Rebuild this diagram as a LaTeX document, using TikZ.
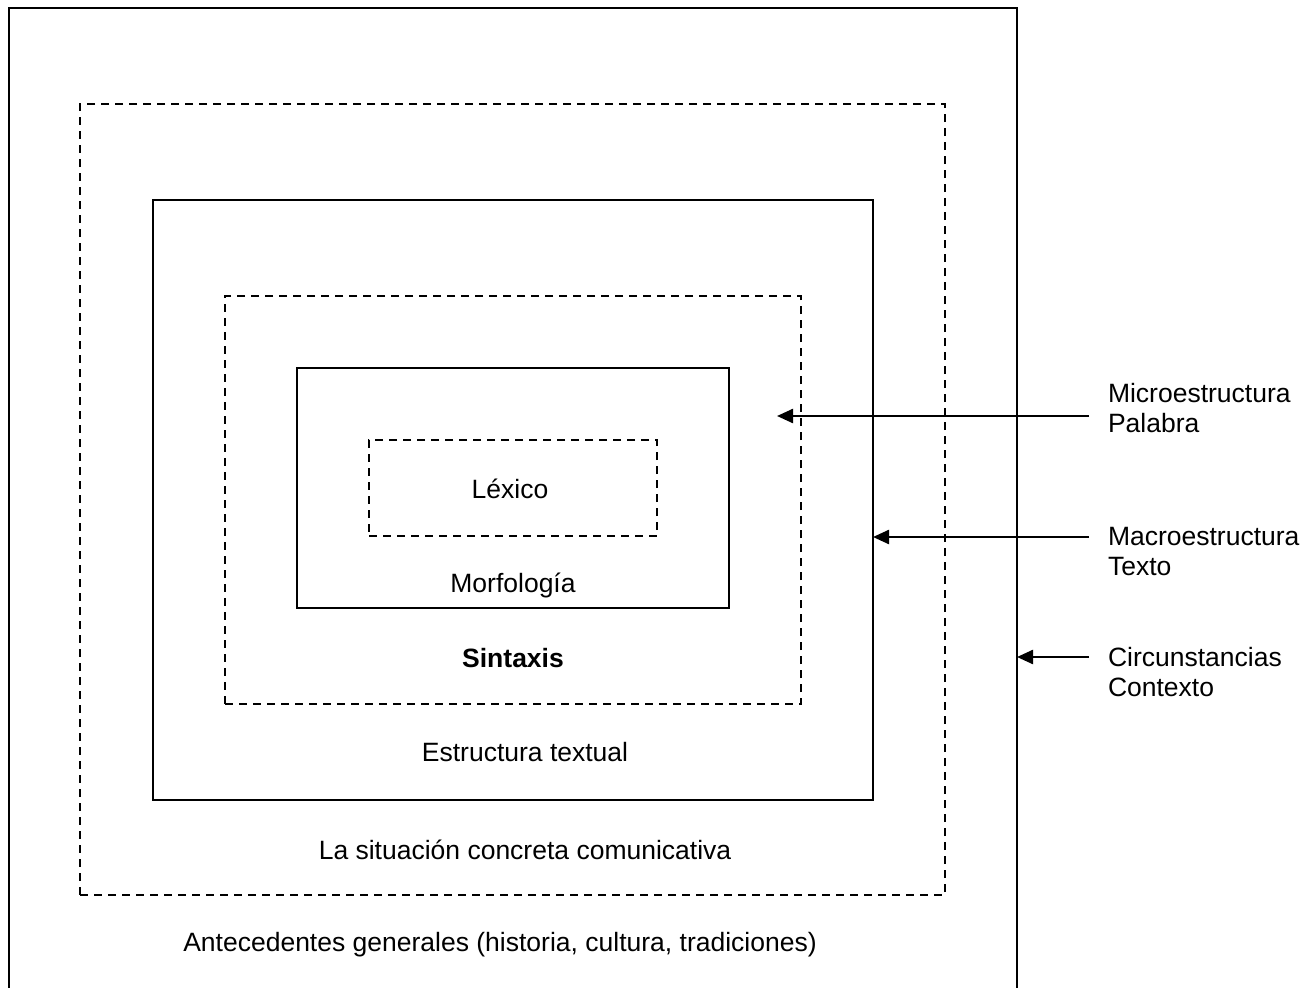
\documentclass[tikz,border=0pt]{standalone}
\usepackage{fontspec}
\setmainfont{Liberation Sans}
\usetikzlibrary{arrows.meta}
\begin{document}
\begin{tikzpicture}[x=1pt,y=-1pt,
  every node/.style={font=\fontsize{26.5}{30}\selectfont, inner sep=0pt, outer sep=0pt},
  solidbox/.style={draw, line width=2.4pt, rectangle},
  dashbox/.style={draw, line width=2.4pt, rectangle, dash pattern=on 8pt off 6pt},
  lbl/.style={align=left, anchor=west},
  pointer/.style={line width=2.4pt, -{Triangle[length=16pt,width=14pt]}}
]
\useasboundingbox (0,0) rectangle (1315,988);
\clip (0,0) rectangle (1315,988);
% boxes
\node[solidbox, minimum width=1008pt, minimum height=1010pt] (outer) at (513,513) {};
\node[dashbox, minimum width=865pt, minimum height=791pt] (situ) at (512.5,499.5) {};
\node[solidbox, minimum width=720pt, minimum height=600pt] (estr) at (513,500) {};
\node[dashbox, minimum width=576pt, minimum height=408pt] (sint) at (513,500) {};
\node[solidbox, minimum width=432pt, minimum height=240pt] (morf) at (513,488) {};
\node[dashbox, minimum width=288pt, minimum height=96pt] (lex) at (513,488) {};
% texts
\node (tlex) at (510,489) {Léxico};
\node (tmorf) at (513,585) {Morfología};
\node (tsint) at (513,658) {\bfseries Sintaxis};
\node (testr) at (525,752) {Estructura textual};
\node (tsitu) at (525,850) {La situación concreta comunicativa};
\node (tante) at (500,945) {Antecedentes generales (historia, cultura, tradiciones)};
% labels
\node[lbl] (micro) at (1108,408) {Microestructura\\Palabra};
\node[lbl] (macro) at (1108,552) {Macroestructura\\Texto};
\node[lbl] (circ) at (1108,672) {Circunstancias\\Contexto};
% arrows
\coordinate (s1) at (1089,416);
\coordinate (t1) at (777,416);
\coordinate (s2) at (1089,537);
\coordinate (s3) at (1089,657);
\draw[pointer] (s1) -- (t1);
\draw[pointer] (s2) -- (s2 -| estr.east);
\draw[pointer] (s3) -- (s3 -| outer.east);
\end{tikzpicture}
\end{document}
